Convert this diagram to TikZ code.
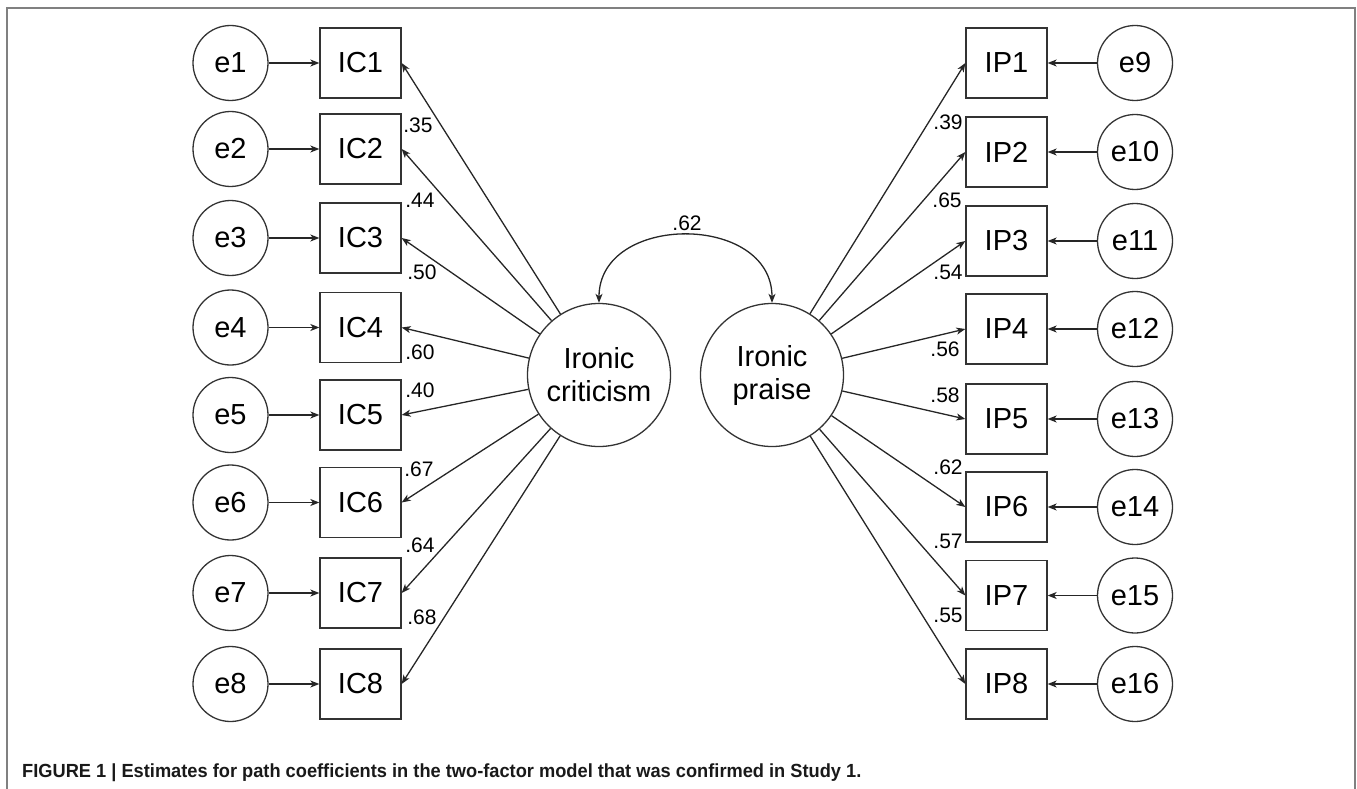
\documentclass[tikz,border=0pt]{standalone}
\usepackage{fontspec}
\setmainfont{Liberation Sans}
\newfontfamily\capfont[FakeStretch=0.96]{Liberation Sans Bold}
\usetikzlibrary{arrows.meta}
\begin{document}
\begin{tikzpicture}[x=1pt,y=-1pt,
  obs/.style={draw=black!80, line width=1.3pt, minimum width=81pt, minimum height=70pt, inner sep=0pt, font=\fontsize{29}{34}\selectfont},
  err/.style={draw=black!80, circle, line width=1.3pt, minimum size=75pt, inner sep=0pt, font=\fontsize{29}{34}\selectfont},
  lat/.style={draw=black!80, circle, line width=1.3pt, minimum size=143pt, inner sep=0pt, align=center, font=\fontsize{29}{33}\selectfont},
  lab/.style={inner sep=0pt, font=\fontsize{21}{24}\selectfont},
  conn/.style={-{Stealth[length=9pt,width=7pt,inset=2.5pt]}, line width=1.3pt, draw=black!85},
  cov/.style={{Stealth[length=9pt,width=7pt,inset=2.5pt]}-{Stealth[length=9pt,width=7pt,inset=2.5pt]}, line width=1.3pt, draw=black!85},
  frame/.style={draw=black!50, line width=2pt}
]
\useasboundingbox (0,0) rectangle (1357,789);
\draw[frame] (7,789) -- (7,8) -- (1355,8) -- (1355,789);

% latent factors
\node[lat] (crit) at (599,375) {Ironic\\criticism};
\node[lat] (praise) at (772,375) {Ironic\\praise};

% left side
\foreach \i/\y in {1/63,2/149,3/238,4/327.5,5/415,6/502.5,7/593,8/684}{
  \node[obs] (IC\i) at (360.5,\y) {IC\i};
  \node[err] (e\i) at (230.5,\y) {e\i};
  \draw[conn] (e\i) -- (IC\i);
  \draw[conn] (crit) -- (IC\i.east);
}
% right side
\foreach \i/\j/\y in {1/9/63,2/10/152,3/11/241,4/12/329,5/13/419,6/14/507,7/15/595.5,8/16/684}{
  \node[obs] (IP\i) at (1006.5,\y) {IP\i};
  \node[err] (e\j) at (1135,\y) {e\j};
  \draw[conn] (e\j) -- (IP\i);
  \draw[conn] (praise) -- (IP\i.west);
}

% covariance
\draw[cov] (crit.north) .. controls +(0,-90) and +(0,-90) .. (praise.north);
\node[lab] (lcov) at (687,223) {.62};

% loadings left
\node[lab] (l1) at (418,125) {.35};
\node[lab] (l2) at (420,200) {.44};
\node[lab] (l3) at (422,272) {.50};
\node[lab] (l4) at (420,352) {.60};
\node[lab] (l5) at (420,390) {.40};
\node[lab] (l6) at (419,469) {.67};
\node[lab] (l7) at (420,545) {.64};
\node[lab] (l8) at (422,617) {.68};
% loadings right
\node[lab] (r1) at (948,122) {.39};
\node[lab] (r2) at (947,200) {.65};
\node[lab] (r3) at (948,272) {.54};
\node[lab] (r4) at (945,349) {.56};
\node[lab] (r5) at (945,395) {.58};
\node[lab] (r6) at (948,467) {.62};
\node[lab] (r7) at (948,541) {.57};
\node[lab] (r8) at (948,615) {.55};

% caption
\node[anchor=base west, inner sep=0pt, text=black!90, font=\capfont\fontsize{19}{22}\selectfont] (cap) at (22,777) {FIGURE 1 | Estimates for path coefficients in the two-factor model that was confirmed in Study 1.};
\end{tikzpicture}
\end{document}
